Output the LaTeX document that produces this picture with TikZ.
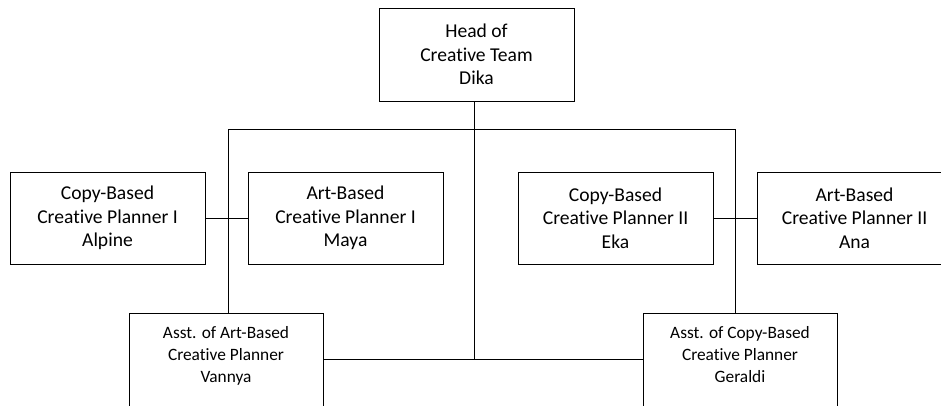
\documentclass[tikz,border=0pt]{standalone}
\usepackage{fontspec}
\setmainfont{Carlito}[Ligatures=NoCommon]
\begin{document}
\begin{tikzpicture}[x=0.75pt,y=-0.75pt]
	% size of each box
	\def\bw{146.25pt}
	\def\bh{69pt}
	\def\aw{145.5pt}
	% node style definition
	\tikzstyle{role} = [draw, rectangle, line width=0.75pt, minimum width=\bw, minimum height=\bh, align=center, font=\fontsize{14.7}{17.6}\selectfont];
	\tikzstyle{asst} = [draw, rectangle, line width=0.75pt, minimum width=\aw, anchor=north, inner ysep=10pt, text depth=70pt, align=center, font=\fontsize{13}{16.5}\selectfont];
	\tikzstyle{link} = [line width=0.75pt];
	% page frame
	\useasboundingbox (0,0) rectangle (941,405);
	\clip (0,0) rectangle (941,405);
	% head
	\node[role, minimum height=69.75pt] (head) at (476.5,54.5) { Head of\\Creative Team\\Dika };
	% planners
	\node[role] (alpine) at (107.5,218) { Copy-Based\\Creative Planner I\\Alpine };
	\node[role] (maya) at (345.5,218) { Art-Based\\Creative Planner I\\Maya };
	\node[role] (eka) at (615.5,218) { Copy-Based\\Creative Planner II\\Eka };
	\node[role] (ana) at (854.5,218) { Art-Based\\Creative Planner II\\Ana };
	% assistants
	\node[asst] (vannya) at (226,313) { Asst. of Art-Based\\Creative Planner\\Vannya };
	\node[asst] (geraldi) at (740,313) { Asst. of Copy-Based\\Creative Planner\\Geraldi };
	% joints
	\coordinate (hub) at (474,359);
	\coordinate (barL) at (228,129);
	\coordinate (barR) at (735,129);
	\draw[link] (hub |- head.south) -- (hub);
	\draw[link] (barL) -- (barR);
	\draw[link] (barL) -- (barL |- vannya.north);
	\draw[link] (barR) -- (barR |- geraldi.north);
	\draw[link] (alpine.east) -- (maya.west);
	\draw[link] (eka.east) -- (ana.west);
	\draw[link] (vannya.east |- hub) -- (geraldi.west |- hub);
\end{tikzpicture}
\end{document}
